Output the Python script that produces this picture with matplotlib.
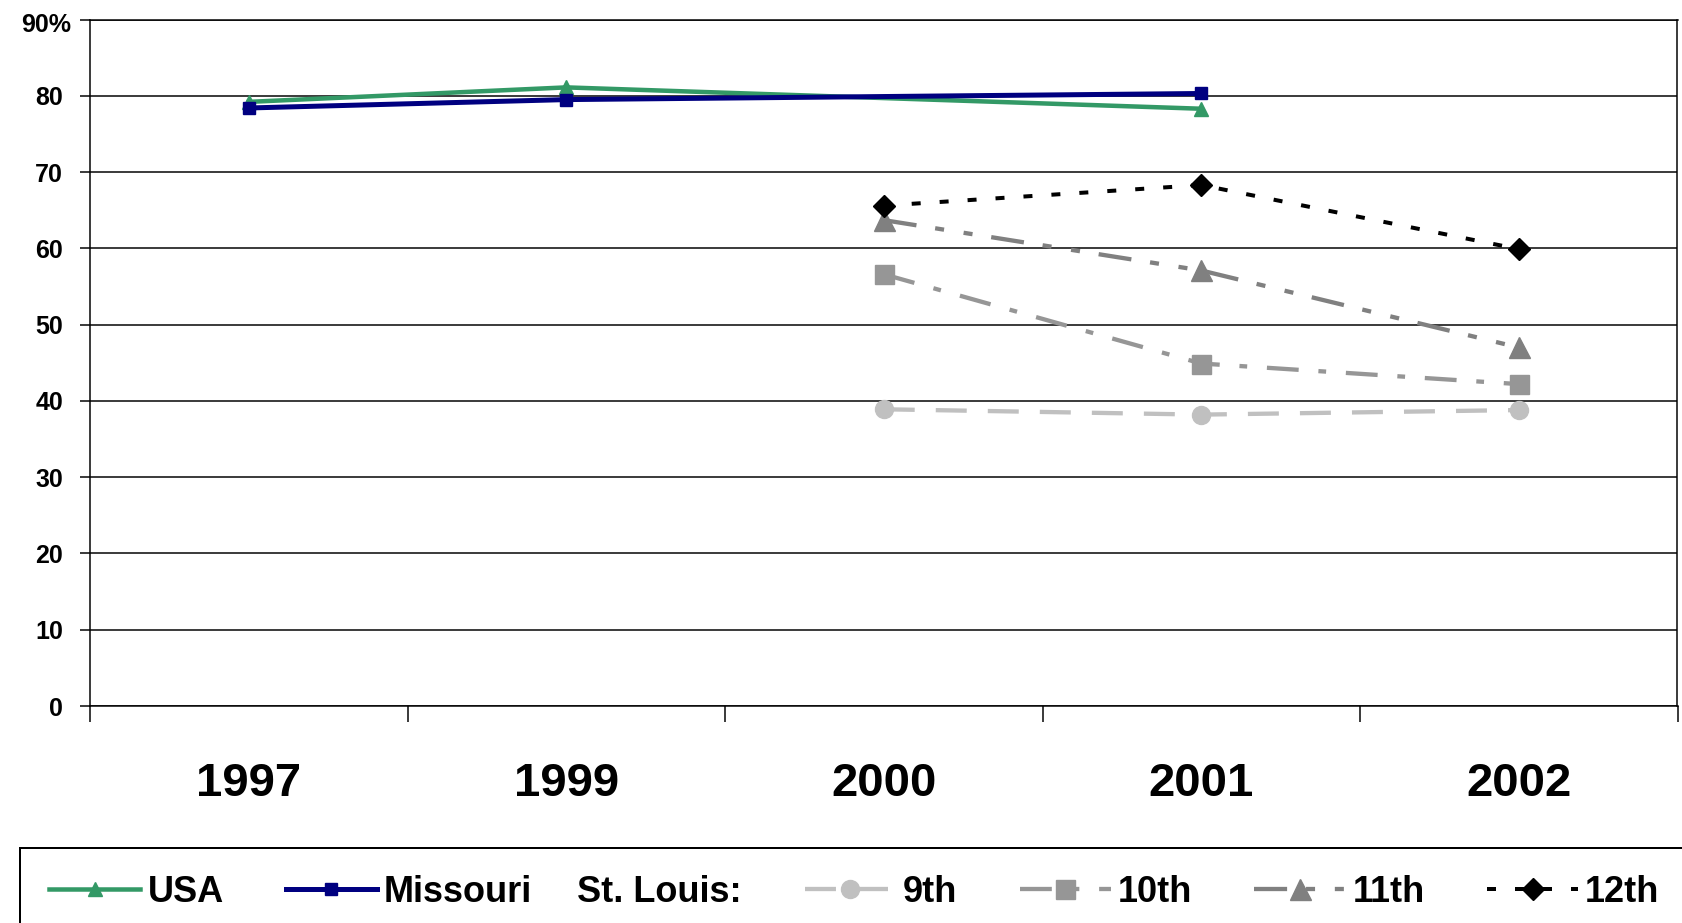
import matplotlib
matplotlib.use('Agg')
import matplotlib.pyplot as plt
import numpy as np
from matplotlib.patches import Rectangle
from matplotlib.transforms import ScaledTranslation

plt.rcParams['font.family'] = ['Liberation Sans', 'DejaVu Sans']
plt.rcParams['font.weight'] = 'bold'

years = ['1997', '1999', '2000', '2001', '2002']
usa = [79.2, 81.1, np.nan, 78.3, np.nan]
missouri = [78.4, 79.5, np.nan, 80.3, np.nan]
grade9 = [np.nan, np.nan, 38.9, 38.2, 38.8]
grade10 = [np.nan, np.nan, 56.6, 44.9, 42.2]
grade11 = [np.nan, np.nan, 63.7, 57.1, 47.0]
grade12 = [np.nan, np.nan, 65.6, 68.3, 59.9]
yticks = [0, 10, 20, 30, 40, 50, 60, 70, 80, 90]
ylabels = ['0', '10', '20', '30', '40', '50', '60', '70', '80', '90%']

W, H = 1683, 923
fig = plt.figure(figsize=(W/100, H/100), dpi=100)
ax = fig.add_axes([90/W, (H-706)/H, (1677.5-90)/W, (706-19.5)/H])

px = 0.72  # points per pixel

def draw(vals, **kw):
    v = np.array(vals, dtype=float)
    x = np.arange(len(v))
    ok = ~np.isnan(v)
    # connect across missing years like the original
    return ax.plot(x[ok], v[ok], **kw)[0]

h_usa = draw(usa, color='#339966', lw=4.5*px, marker='^', ms=14*px, label='USA')
h_mo = draw(missouri, color='#000080', lw=5*px, marker='s', ms=12*px, label='Missouri')
h9 = draw(grade9, color='#c0c0c0', lw=4.3*px, marker='o', ms=18*px,
          ls=(0, (7.2, 4.9)), label='9th')
h10 = draw(grade10, color='#969696', lw=4.3*px, marker='s', ms=19*px,
           ls=(0, (7.4, 4.6, 1.8, 4.6)), label='10th')
h11 = draw(grade11, color='#808080', lw=4.3*px, marker='^', ms=21*px,
           ls=(0, (7.7, 4.4, 2.1, 4.6, 2.1, 4.4)), label='11th')
h12 = draw(grade12, color='black', lw=4*px, marker='D', ms=15*px,
           ls=(0, (2.25, 4.75)), label='12th')

ax.set_xlim(-0.5, 4.5)
ax.set_ylim(0, 90)
ax.set_yticks(yticks)
ax.set_yticklabels(ylabels)
ax.set_xticks(range(len(years)))
ax.set_xticklabels(years)
ax.set_xticks(np.arange(-0.5, 5, 1), minor=True)
ax.yaxis.grid(True, color='black', lw=1.5*px)
ax.set_axisbelow(True)
for s in ax.spines.values():
    s.set_linewidth(1.5*px)
    s.set_color('black')
ax.tick_params(axis='y', length=10*px, width=1.5*px, pad=17*px, labelsize=18)
ax.tick_params(axis='x', which='major', length=0, pad=40, labelsize=34)
ax.tick_params(axis='x', which='minor', length=16*px, width=1.5*px)

# the top label sits a little right/lower in the original
top = ax.get_yticklabels()[-1]
top.set_transform(top.get_transform() + ScaledTranslation(0.08, -0.03, fig.dpi_scale_trans))

# legend
yl = (H-892)/H
common = dict(frameon=False, fontsize=26, handlelength=2.52, handletextpad=0.2,
              columnspacing=1.72, borderpad=0, borderaxespad=0, loc='center left')
fig.legend(handles=[h_usa, h_mo], ncol=2, bbox_to_anchor=(49.3/W, yl), **common)
fig.text(576.7/W, yl, 'St. Louis:', fontsize=26, fontweight='bold', va='center', ha='left')
fig.legend(handles=[h9, h10, h11, h12], ncol=4, bbox_to_anchor=(805/W, yl), **common)
fig.add_artist(Rectangle((19.5/W, -0.1), 1.2, (H-848.3)/H + 0.1, transform=fig.transFigure,
                         fill=False, ec='black', lw=2*px))

fig.savefig('out.png', dpi=100)
